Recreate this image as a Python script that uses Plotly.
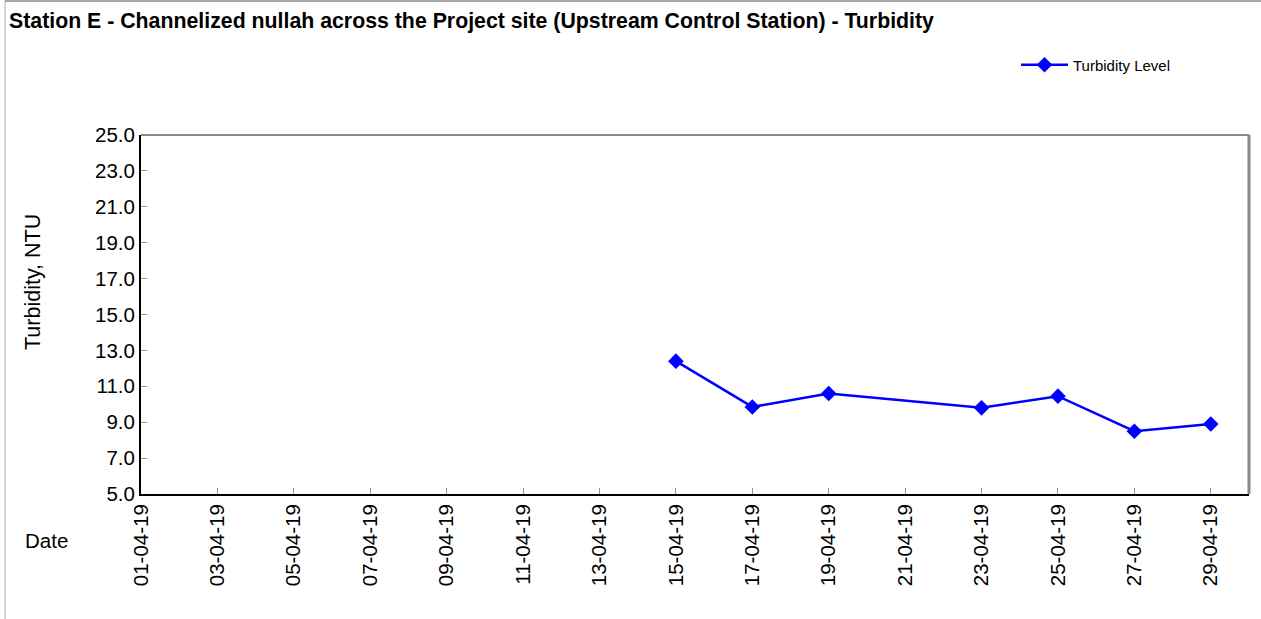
import plotly.graph_objects as go

dates = ["2019-04-15", "2019-04-17", "2019-04-19", "2019-04-23", "2019-04-25", "2019-04-27", "2019-04-29"]
turbidity = [12.4, 9.85, 10.6, 9.8, 10.45, 8.5, 8.9]

title_text = "Station E - Channelized nullah across the Project site (Upstream Control Station) - Turbidity"
series_name = "Turbidity Level"
y_title = "Turbidity, NTU"
x_title = "Date"

W, H = 1261, 619
L, T = 141, 135
PR, PB = 1249, 494
R, B = W - PR, H - PB
pw, ph = W - L - R, H - T - B

def px(x):
    return (x - L) / pw

def py(y):
    return (H - B - y) / ph

FONT = "Liberation Sans, Arial, sans-serif"

fig = go.Figure()
fig.add_trace(go.Scatter(
    x=dates, y=turbidity, name=series_name, mode="lines+markers",
    line=dict(color="#0000FF", width=2.5),
    marker=dict(symbol="diamond", size=12, color="#0000FF"),
    cliponaxis=False,
))

fig.update_layout(
    width=W, height=H,
    margin=dict(l=L, r=R, t=T, b=B),
    paper_bgcolor="white", plot_bgcolor="white",
    font=dict(family=FONT, color="black"),
    showlegend=True,
    legend=dict(x=px(1016), y=py(65), xanchor="left", yanchor="middle",
                font=dict(size=15, family=FONT), bgcolor="rgba(0,0,0,0)",
                itemwidth=47),
    xaxis=dict(
        type="date", range=["2019-04-01", "2019-04-30"],
        tick0="2019-04-01", dtick=2 * 86400000, tickformat="%d-%m-%y",
        tickangle=-90, tickfont=dict(size=20.5, family=FONT),
        ticks="inside", ticklen=6, tickcolor="#999999",
        showgrid=False, zeroline=False,
        showline=True, linecolor="black", linewidth=2,
    ),
    yaxis=dict(
        range=[5, 25], dtick=2, tick0=5, tickformat=".1f",
        tickfont=dict(size=20.5, family=FONT),
        ticks="inside", ticklen=6, tickcolor="#999999",
        showgrid=False, zeroline=False,
        showline=True, linecolor="black", linewidth=2,
    ),
    shapes=[
        dict(type="line", xref="paper", yref="paper", x0=0, x1=1, y0=1, y1=1,
             line=dict(color="#888888", width=2)),
        dict(type="line", xref="paper", yref="paper", x0=1, x1=1, y0=0, y1=1,
             line=dict(color="#888888", width=3)),
        dict(type="line", xref="paper", yref="paper", x0=px(5), x1=px(5), y0=py(1), y1=py(619),
             line=dict(color="#AAAAAA", width=1)),
        dict(type="line", xref="paper", yref="paper", x0=px(5), x1=px(1261), y0=py(1), y1=py(1),
             line=dict(color="#888888", width=1.5)),
    ],
    annotations=[
        dict(text="<b>" + title_text + "</b>", xref="paper", yref="paper",
             x=px(7), y=py(21), xanchor="left", yanchor="middle", showarrow=False,
             font=dict(size=21.3, family=FONT)),
        dict(text=y_title, xref="paper", yref="paper", textangle=-90,
             x=px(33), y=py(282), xanchor="center", yanchor="middle", showarrow=False,
             font=dict(size=21.5, family=FONT)),
        dict(text=x_title, xref="paper", yref="paper",
             x=px(23), y=py(540), xanchor="left", yanchor="middle", showarrow=False,
             font=dict(size=20.5, family=FONT)),
    ],
)

fig.write_html("out.html", config={"displayModeBar": False},
               post_script="document.body.style.margin='0';document.body.style.overflow='hidden';")
